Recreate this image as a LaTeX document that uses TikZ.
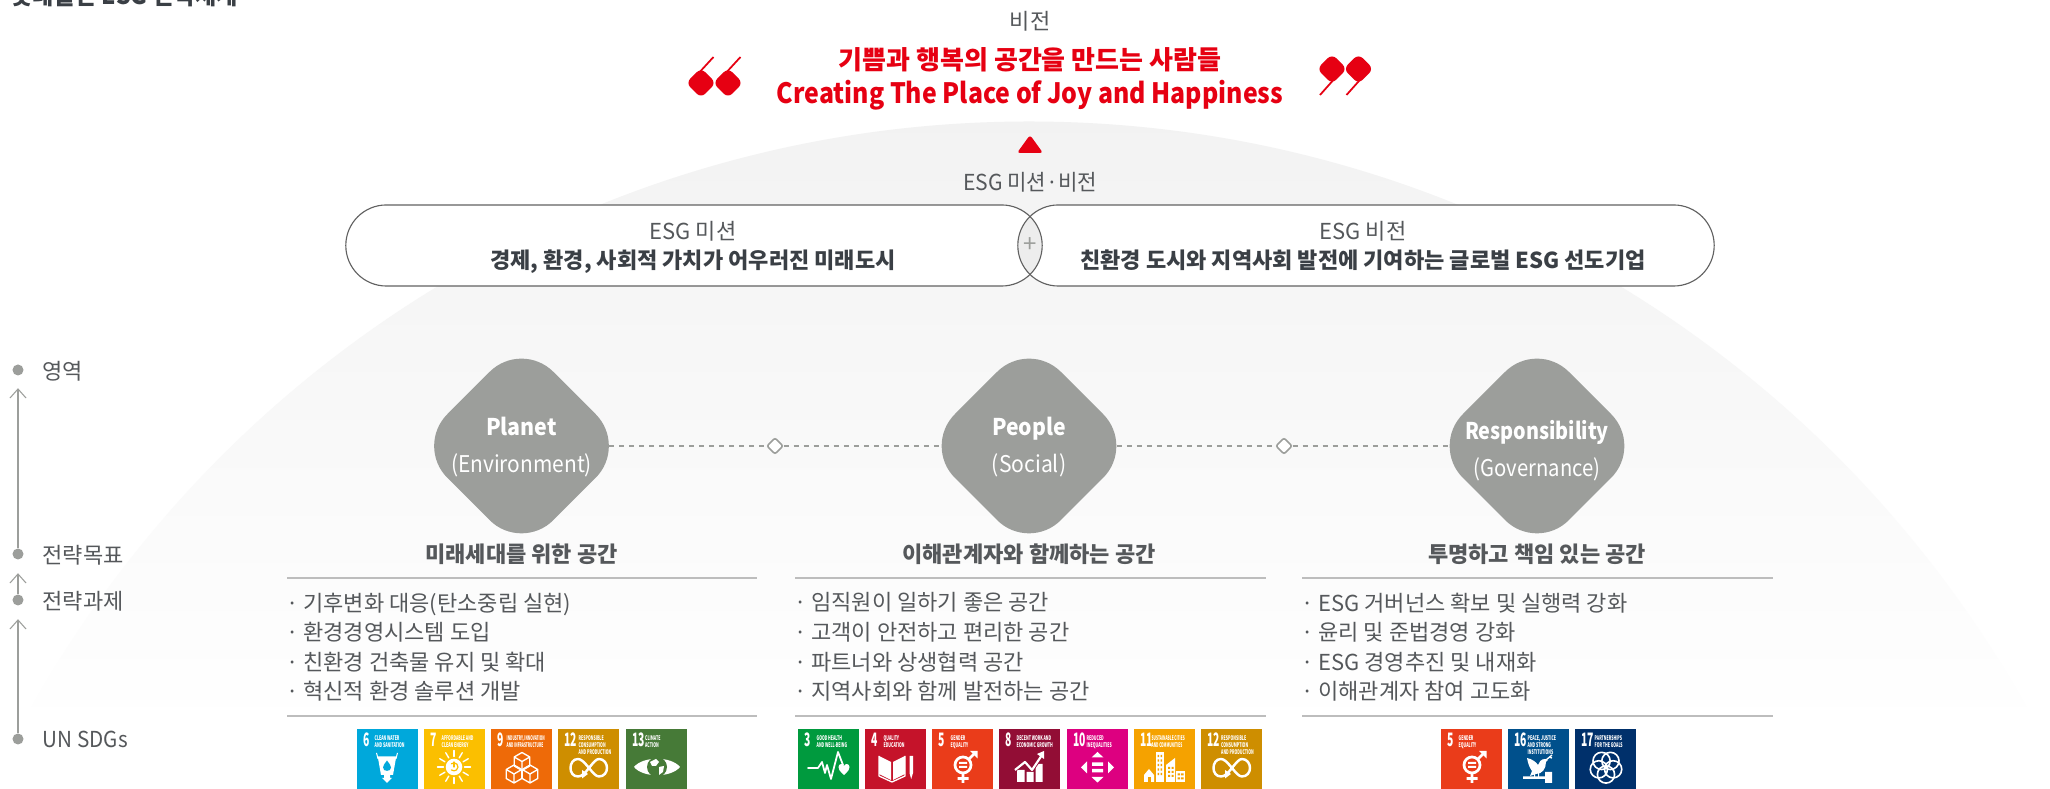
\documentclass[tikz,border=0pt]{standalone}
\usepackage{fontspec}
\usetikzlibrary{arrows.meta,calc}
\setmainfont{Noto Sans CJK KR}
\newcommand{\pxf}[1]{\fontsize{\fpeval{#1*0.2845}pt}{\fpeval{#1*0.2845*1.2}pt}\selectfont}
\newcommand{\pxl}[2]{\fontsize{\fpeval{#1*0.2845}pt}{\fpeval{#2*0.2845}pt}\selectfont}
\definecolor{txt}{HTML}{55585B}
\definecolor{dark}{HTML}{3A3F45}
\definecolor{redq}{HTML}{E60012}
\definecolor{gy}{HTML}{9C9E9B}
\definecolor{ln}{HTML}{BDBDBD}
\definecolor{s3}{HTML}{009A3E}\definecolor{s4}{HTML}{C5132A}\definecolor{s5}{HTML}{EA3C1A}
\definecolor{s6}{HTML}{00A8DB}\definecolor{s7}{HTML}{FBBF00}\definecolor{s8}{HTML}{920D35}
\definecolor{s9}{HTML}{EE6A08}\definecolor{s10}{HTML}{DD0080}\definecolor{s11}{HTML}{F5A200}
\definecolor{s12}{HTML}{CE8E00}\definecolor{s13}{HTML}{467A37}\definecolor{s16}{HTML}{00508C}
\definecolor{s17}{HTML}{00306B}
\tikzset{
  lbl/.style={anchor=base,inner sep=0pt,text=txt},
  side/.style={anchor=base west,inner sep=0pt,text=txt,font=\pxf{22}},
  goal/.style={anchor=base,inner sep=0pt,text=txt,font=\bfseries\pxf{22}},
  pillnode/.style={draw=black!62,line width=.32pt,rounded corners=.405cm,minimum height=.81cm,minimum width=6.96cm,inner sep=0pt,align=center,text=dark},
  bignode/.style={circle,minimum size=1.74cm,inner sep=0pt,text=white,align=center},
  wtxt/.style={anchor=base,inner sep=0pt,text=white,font=\pxf{23}},
  wbold/.style={anchor=base,inner sep=0pt,text=white,font=\bfseries\pxf{23}},
  dotnode/.style={circle,fill=gy,minimum size=.11cm,inner sep=0pt},
  smalld/.style={circle,minimum size=.16cm,inner sep=0pt},
  rule/.style={draw=ln,line width=.4pt},
  uparrow/.style={draw=gy,line width=.3pt,-{Straight Barb[length=.09cm,width=.16cm]}},
  list/.style={anchor=north west,inner sep=0pt,align=left,text=txt,font=\pxl{22}{29.6}},
  num/.style={anchor=base west,inner sep=0pt,text=white,font=\bfseries\pxf{18.5}},
  tag/.style={anchor=north west,inner sep=0pt,text=white,font=\bfseries\pxl{6.4}{7}},
  ic/.style={draw=white,line width=.7pt,line cap=round,line join=round},
  ict/.style={draw=white,line width=.38pt,line join=round},
}
% rounded diamond
\newcommand{\bigdiamond}[2]{\fill[gy,rounded corners=.45cm] (#1,#2-106) -- (#1+106,#2) -- (#1,#2+106) -- (#1-106,#2) -- cycle;}
\newcommand{\smdiamond}[2]{\filldraw[fill=white,draw=gy,line width=.45pt,rounded corners=.02cm] (#1,#2-8) -- (#1+8,#2) -- (#1,#2+8) -- (#1-8,#2) -- cycle;}
% quote glyphs
\newcommand{\qdrop}[2]{\fill[redq,rounded corners=.06cm] (#1,#2-15) -- (#1+15,#2) -- (#1,#2+15) -- (#1-15,#2) -- cycle;}
% sdg box: name, x, colour, number, label x, label, icon
\newcommand{\sdg}[7]{\begin{scope}[shift={(#2,729)}]
  \fill[#3] (0,0) rectangle (61,60);
  \node[num] (num#1) at (5.5,18) {\scalebox{.56}[1]{#4}};
  \node[tag] (tag#1) at (#5,5.5) {\scalebox{.55}[1]{\begin{tabular}{@{}l@{}}#6\end{tabular}}};
  #7
\end{scope}}
\newcommand{\icowater}[1]{\fill[white] (19,24) -- (20.5,30) -- (39.5,30) -- (41,24) -- (40,24) -- (39,27.5) -- (21,27.5) -- (20,24) -- cycle;
  \fill[white] (21,29) -- (39,29) -- (36,46) -- (33,46) -- (33,49) -- (35,49) -- (30,54) -- (25,49) -- (27,49) -- (27,46) -- (24,46) -- cycle;
  \fill[#1] (30,31.5) .. controls (33,35.5) and (34,37) .. (34,38.5) .. controls (34,43) and (26,43) .. (26,38.5) .. controls (26,37) and (27,35.5) .. (30,31.5) -- cycle;}
\newcommand{\icosun}[1]{\fill[white] (30,38) circle (8.3);
  \draw[draw=#1,line width=.34pt,line cap=round] (27.4,34.8) arc[start angle=-130,end angle=130,radius=4] ;
  \draw[draw=#1,line width=.34pt,line cap=round] (30,33) -- (30,38);
  \foreach \a in {0,30,...,330}{\draw[ic,line width=.4pt] ($(30,38)$) ++(\a:10.5) -- ++(\a:6);}}
\newcommand{\isocube}[2]{\draw[ict,shift={(#1,#2)}] (0,-9) -- (7.8,-4.5) -- (7.8,4.5) -- (0,9) -- (-7.8,4.5) -- (-7.8,-4.5) -- cycle (0,0) -- (-7.8,-4.5) (0,0) -- (7.8,-4.5) (0,0) -- (0,9);}
\newcommand{\icocubes}[1]{\isocube{31}{32.5}\isocube{23}{45}\isocube{39}{45}}
\newcommand{\icoinf}[1]{\draw[ic] (31,39) .. controls (26,33) and (23,30) .. (20,30) .. controls (15,30) and (12.5,34.5) .. (12.5,39) .. controls (12.5,43.5) and (15,47.5) .. (20,47.5) .. controls (24,47.5) and (27,44) .. (31,39) .. controls (35,34) and (38,30) .. (41,30) .. controls (46,30) and (49,34.5) .. (49,39) .. controls (49,43.5) and (46,47.5) .. (41,47.5) .. controls (38,47.5) and (35,44) .. (31,39) -- cycle;
  \fill[white] (24,41) -- (30,45) -- (24,49.5) -- cycle;}
\newcommand{\icoeye}[1]{\fill[white] (8,38) .. controls (17,27) and (45,27) .. (54,38) .. controls (45,49) and (17,49) .. (8,38) -- cycle;
  \fill[#1] (31,38) circle (10);
  \fill[white] (24,33) -- (30,30) -- (33,33) -- (30,37) -- (26,37) -- cycle (33,38) -- (38,37) -- (37,43) -- (33,46) -- cycle;}
\newcommand{\icoheart}[1]{\draw[ic,line width=.5pt] (10,39) -- (20,39) -- (24,33) -- (27,44) -- (29,36) -- (33,50) -- (40,23) -- (45,36);
  \fill[white] (46,46) .. controls (41,41.5) and (40.5,40) .. (40.5,38) .. controls (40.5,34.5) and (45,34) .. (46,37) .. controls (47,34) and (51.5,34.5) .. (51.5,38) .. controls (51.5,40) and (51,41.5) .. (46,46) -- cycle;}
\newcommand{\icobook}[1]{\fill[white] (14,27) -- (26,33) -- (26,51) -- (14,45) -- cycle (28,33) -- (40,27) -- (40,45) -- (28,51) -- cycle;
  \draw[ict] (14,27) -- (14,47) -- (27,53) -- (40,47) -- (40,27);
  \fill[white] (44.5,27) -- (48,27) -- (48,44) -- (46.2,50) -- (44.5,44) -- cycle;}
\newcommand{\icogender}[1]{\draw[ic,line width=.78pt,line cap=butt] (31,36) circle (8);
  \fill[white] (27,33) rectangle (35,35) (27,37) rectangle (35,39);
  \draw[ic,line width=.78pt,line cap=butt] (31,44) -- (31,54) (25.5,49.5) -- (36.5,49.5) (36.5,30.5) -- (43,24);
  \fill[white] (38,22) -- (45.5,22) -- (45.5,29.5) -- cycle;}
\newcommand{\icogrowth}[1]{\fill[white] (18,41) rectangle (25.5,53) (27.5,43) rectangle (34.5,53) (36.5,35) rectangle (43.5,53);
  \draw[#1,line width=1pt,line join=round] (16,41) -- (26,33) -- (33,41) -- (43,27);
  \draw[ic,line width=.62pt,line cap=butt] (16,41) -- (26,33) -- (33,41) -- (43,26);
  \fill[white] (38,25) -- (45,22) -- (45,30) -- cycle;}
\newcommand{\icoreduce}[1]{\fill[white] (30.5,23) -- (36.5,28.5) -- (24.5,28.5) -- cycle (30.5,53.5) -- (36.5,48) -- (24.5,48) -- cycle
  (14,38.5) -- (20,32.5) -- (20,44.5) -- cycle (47,38.5) -- (41,32.5) -- (41,44.5) -- cycle
  (25,33.5) rectangle (36,37) (25,40) rectangle (36,43.5);}
\newcommand{\icocity}[1]{\fill[white] (10,46) -- (15,40) -- (20,46) -- (20,53) -- (10,53) -- cycle;
  \fill[white] (21.5,23) rectangle (30,53);
  \fill[white] (32,36) -- (41,29) -- (41,53) -- (32,53) -- cycle;
  \fill[white] (42,42) rectangle (51,53);
  \fill[#1] (13.5,48) rectangle (16.5,53);
  \foreach \yy in {26,30.5,35,39.5,44}{\fill[#1] (23.5,\yy) rectangle (25,\yy+2.2) (26.5,\yy) rectangle (28,\yy+2.2);}
  \foreach \yy in {38,42,46}{\fill[#1] (34,\yy) rectangle (36,\yy+2) (37.5,\yy) rectangle (39.5,\yy+2);}
  \foreach \yy in {44.5,48.5}{\fill[#1] (43.5,\yy) rectangle (46,\yy+2) (47,\yy) rectangle (49.5,\yy+2);}}
\newcommand{\icodove}[1]{\fill[white] (19,29) .. controls (24,30) and (28,33) .. (30,36) .. controls (31,33) and (33,30) .. (37,30) -- (40,31) -- (38,33) .. controls (38,40) and (34,45) .. (28,45) -- (22,47) -- (24,42) .. controls (21,38) and (20,34) .. (19,29) -- cycle;
  \draw[ict] (38,31) -- (44,26) (41,28) -- (44,29);
  \fill[white] (15,47.5) rectangle (38,50) (37,43) rectangle (44,54);
  \fill[white] (26,45) rectangle (27,48) (30,44) rectangle (31,48);}
\newcommand{\icorings}[1]{\foreach \a in {90,162,234,306,18}{\draw[ict,line width=.46pt] (31,38) ++(\a:7.5) circle (8.6);}}
\begin{document}
\begin{tikzpicture}[x=.01cm,y=-.01cm]
\useasboundingbox (0,0) rectangle (2050,789);
\clip (0,0) rectangle (2050,789);
\fill[white] (0,0) rectangle (2050,789);
% dome
\begin{scope}
  \clip (1029,1263.5) circle (1142);
  \shade[top color=black!5,middle color=black!2,bottom color=white] (0,121) rectangle (2050,730);
\end{scope}
% title
\node[anchor=base west,inner sep=0pt,text=dark,font=\bfseries\pxf{25}] (title) at (11,5) {\scalebox{.92}[1]{롯데물산 ESG 전략체계}};
% vision
\node[lbl,font=\pxf{22}] (vision) at (1030,29.5) {비전};
\node[lbl,text=redq,font=\bfseries\pxf{26}] (v1) at (1030,69.5) {기쁨과 행복의 공간을 만드는 사람들};
\node[lbl,text=redq,font=\bfseries\pxf{28}] (v2) at (1030,104) {\scalebox{.887}[1]{Creating The Place of Joy and Happiness}};
% quotes
\qdrop{701}{83}\qdrop{728}{83}
\draw[redq,line width=.5pt] (697,75) -- (713.5,57) (724,75) -- (740.5,57);
\qdrop{1332}{69}\qdrop{1358.5}{69}
\draw[redq,line width=.5pt] (1336,77) -- (1320,95) (1362.5,77) -- (1346.5,95);
% triangle
\fill[redq,rounded corners=.03cm] (1030,135) -- (1043,153) -- (1017,153) -- cycle;
\node[lbl,font=\pxf{22}] (msv) at (1030,191) {\scalebox{.96}[1]{ESG 미션·비전}};
% pills
\fill[white,rounded corners=.405cm] (346,205) rectangle (1042,286);
\fill[white,rounded corners=.405cm] (1018,205) rectangle (1714,286);
\begin{scope}
  \clip[rounded corners=.405cm] (346,205) rectangle (1042,286);
  \fill[black!7,rounded corners=.405cm] (1018,205) rectangle (1714,286);
\end{scope}
\node[pillnode] (mission) at (694,245.5) {};
\node[pillnode] (esgvision) at (1366,245.5) {};
\node[lbl,font=\pxf{22}] (m1) at (693,240) {ESG 미션};
\node[anchor=base,inner sep=0pt,text=dark,font=\bfseries\pxf{22}] (m2) at (693,268.5) {경제, 환경, 사회적 가치가 어우러진 미래도시};
\node[lbl,font=\pxf{22}] (e1) at (1363,240) {ESG 비전};
\node[anchor=base,inner sep=0pt,text=dark,font=\bfseries\pxf{22}] (e2) at (1363,268.5) {친환경 도시와 지역사회 발전에 기여하는 글로벌 ESG 선도기업};
\node[inner sep=0pt,text=gy,font=\pxf{24}] (plus) at (1030,245) {+};
% left scale
\node[dotnode] (d1) at (18,370) {};
\node[dotnode] (d2) at (18,554) {};
\node[dotnode] (d3) at (18,600) {};
\node[dotnode] (d4) at (18,739) {};
\draw[uparrow,shorten >=.12cm] (d2) -- (d1);
\draw[uparrow,shorten >=.13cm] (d3) -- (d2);
\draw[uparrow,shorten >=.13cm] (d4) -- (d3);
\node[side] (a1) at (42,379.5) {영역};
\node[side] (a2) at (42,563.5) {전략목표};
\node[side] (a3) at (42,609.5) {전략과제};
\node[side] (a4) at (42,748) {\scalebox{.94}[1]{UN SDGs}};
% big diamonds
\bigdiamond{521.5}{446}\bigdiamond{1029}{446}\bigdiamond{1537}{446}
\node[bignode] (planet) at (521.5,446) {};
\node[bignode] (people) at (1029,446) {};
\node[bignode] (resp) at (1537,446) {};
\node[smalld] (j1) at (775,446) {};
\node[smalld] (j2) at (1284,446) {};
\draw[draw=gy,line width=.45pt,dash pattern=on .05cm off .05cm] (planet.east) -- (j1.west) (j1.east) -- (people.west) (people.east) -- (j2.west) (j2.east) -- (resp.west);
\smdiamond{775}{446}\smdiamond{1284}{446}
\node[wbold] (pl1) at (521.5,436) {\scalebox{.93}[1]{Planet}};
\node[wtxt] (pl2) at (521.5,473) {\scalebox{.91}[1]{(Environment)}};
\node[wbold] (pe1) at (1029,436) {\scalebox{.92}[1]{People}};
\node[wtxt] (pe2) at (1029,473) {\scalebox{.92}[1]{(Social)}};
\node[wbold] (re1) at (1537,440) {\scalebox{.86}[1]{Responsibility}};
\node[wtxt] (re2) at (1537,477) {\scalebox{.88}[1]{(Governance)}};
% goals
\node[goal] (g1) at (521.5,563) {미래세대를 위한 공간};
\node[goal] (g2) at (1029,563) {이해관계자와 함께하는 공간};
\node[goal] (g3) at (1537,563) {투명하고 책임 있는 공간};
% rules
\coordinate (r1a) at (287,578);\coordinate (r1b) at (757,578);
\coordinate (r2a) at (795,578);\coordinate (r2b) at (1266,578);
\coordinate (r3a) at (1302,578);\coordinate (r3b) at (1773,578);
\coordinate (q1a) at (287,716);\coordinate (q1b) at (757,716);
\coordinate (q2a) at (795,716);\coordinate (q2b) at (1266,716);
\coordinate (q3a) at (1302,716);\coordinate (q3b) at (1773,716);
\draw[rule] (r1a) -- (r1b) (r2a) -- (r2b) (r3a) -- (r3b) (q1a) -- (q1b) (q2a) -- (q2b) (q3a) -- (q3b);
% lists
\node[list] (l1) at (285.5,592) {· 기후변화 대응(탄소중립 실현)\\· 환경경영시스템 도입\\· 친환경 건축물 유지 및 확대\\· 혁신적 환경 솔루션 개발};
\node[list] (l2) at (793.5,592) {· 임직원이 일하기 좋은 공간\\· 고객이 안전하고 편리한 공간\\· 파트너와 상생협력 공간\\· 지역사회와 함께 발전하는 공간};
\node[list] (l3) at (1300.5,592) {· ESG 거버넌스 확보 및 실행력 강화\\· 윤리 및 준법경영 강화\\· ESG 경영추진 및 내재화\\· 이해관계자 참여 고도화};
% SDGs
\sdg{a6}{357}{s6}{6}{17}{CLEAN WATER\\AND SANITATION}{\icowater{s6}}
\sdg{a7}{424}{s7}{7}{17}{AFFORDABLE AND\\CLEAN ENERGY}{\icosun{s7}}
\sdg{a9}{491}{s9}{9}{15}{\scalebox{.9}[1]{INDUSTRY, INNOVATION}\\\scalebox{.9}[1]{AND INFRASTRUCTURE}}{\icocubes{s9}}
\sdg{a12}{558}{s12}{12}{20}{RESPONSIBLE\\CONSUMPTION\\AND PRODUCTION}{\icoinf{s12}}
\sdg{a13}{626}{s13}{13}{18.5}{CLIMATE\\ACTION}{\icoeye{s13}}
\sdg{b3}{798}{s3}{3}{18}{GOOD HEALTH\\AND WELL-BEING}{\icoheart{s3}}
\sdg{b4}{865}{s4}{4}{18}{QUALITY\\EDUCATION}{\icobook{s4}}
\sdg{b5}{932}{s5}{5}{18}{GENDER\\EQUALITY}{\icogender{s5}}
\sdg{b8}{999}{s8}{8}{17}{DECENT WORK AND\\ECONOMIC GROWTH}{\icogrowth{s8}}
\sdg{b10}{1067}{s10}{10}{19}{REDUCED\\INEQUALITIES}{\icoreduce{s10}}
\sdg{b11}{1134}{s11}{11}{17}{\scalebox{.9}[1]{SUSTAINABLE CITIES}\\\scalebox{.9}[1]{AND COMMUNITIES}}{\icocity{s11}}
\sdg{b12}{1201}{s12}{12}{19.5}{RESPONSIBLE\\CONSUMPTION\\AND PRODUCTION}{\icoinf{s12}}
\sdg{c5}{1441}{s5}{5}{17}{GENDER\\EQUALITY}{\icogender{s5}}
\sdg{c16}{1508}{s16}{16}{19}{PEACE, JUSTICE\\AND STRONG\\INSTITUTIONS}{\icodove{s16}}
\sdg{c17}{1575}{s17}{17}{19}{PARTNERSHIPS\\FOR THE GOALS}{\icorings{s17}}
\end{tikzpicture}
\end{document}
